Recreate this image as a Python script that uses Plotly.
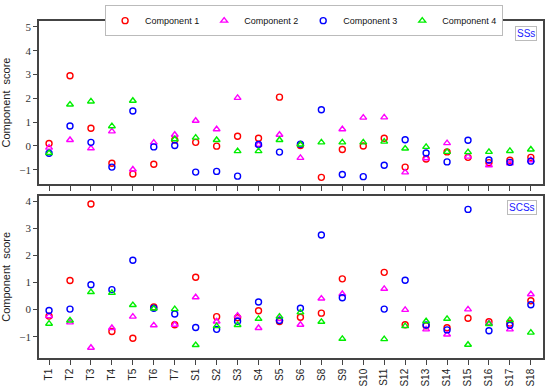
import plotly.graph_objects as go

samples = ["T1", "T2", "T3", "T4", "T5", "T6", "T7",
           "S1", "S2", "S3", "S4", "S5", "S6",
           "S8", "S9", "S10", "S11", "S12", "S13", "S14", "S15", "S16", "S17", "S18"]

# SSs panel
ss_c1 = [0.1, 2.95, 0.74, -0.73, -1.18, -0.77, 0.25, 0.15, -0.01, 0.41, 0.32, 2.05, 0.02,
         -1.32, -0.15, 0.0, 0.32, -0.89, -0.55, -0.25, -0.48, -0.7, -0.6, -0.48]
ss_c2 = [-0.07, 0.25, -0.1, 0.61, -0.99, 0.14, 0.47, 1.06, 0.70, 2.02, 0.05, 0.47, -0.5,
         4.89, 0.70, 1.19, 1.2, -1.11, -0.52, 0.12, -0.45, -0.81, -0.73, -0.6]
ss_c3 = [-0.31, 0.84, 0.15, -0.89, 1.47, -0.04, 0.02, -1.1, -1.07, -1.27, 0.06, -0.26, 0.07,
         1.52, -1.2, -1.29, -0.81, 0.26, -0.30, -0.67, 0.24, -0.59, -0.69, -0.64]
ss_c4 = [-0.3, 1.74, 1.87, 0.83, 1.9, 5.0, 0.28, 0.35, 0.25, -0.22, -0.22, 0.25, 0.06,
         0.15, 0.15, 0.15, 0.18, -0.11, -0.04, -0.25, -0.26, -0.25, -0.21, -0.15]

# SCSs panel
scs_c1 = [-0.24, 1.08, 3.91, -0.81, -1.06, 0.1, -0.56, 1.2, -0.26, -0.3, -0.04, -0.44, -0.28,
          -0.13, 1.14, None, 1.38, -0.56, -0.6, -0.67, -0.32, -0.45, -0.5, 0.33]
scs_c2 = [-0.24, -0.47, -1.41, -0.68, -0.26, -0.58, -0.56, 0.46, -0.44, -0.22, -0.68, -0.35, -0.56,
          0.41, 0.58, None, 0.77, -0.01, -0.73, -0.92, 0.01, -0.5, -0.73, 0.57]
scs_c3 = [-0.03, 0.02, 0.92, 0.74, 1.83, 0.05, -0.16, -0.66, -0.73, -0.43, 0.28, -0.4, 0.05,
          2.76, 0.44, None, 0.02, 1.09, -0.57, -0.75, 3.71, -0.78, -0.58, 0.18]
scs_c4 = [-0.52, -0.4, 0.65, 0.62, 0.17, 0.04, 0.02, -1.31, -0.61, -0.57, -0.34, -0.26, -0.1,
          -0.45, -1.08, None, -1.09, -0.61, -0.43, -0.34, -1.3, -0.53, -0.39, -0.85]

names = ["Component 1", "Component 2", "Component 3", "Component 4"]
colors = ["#FF0000", "#FF00FF", "#0000FF", "#00EE00"]
symbols = ["circle-open", "triangle-up-open", "circle-open", "triangle-up-open"]

fig = go.Figure()
top = [ss_c1, ss_c2, ss_c3, ss_c4]
bot = [scs_c1, scs_c2, scs_c3, scs_c4]
for i in range(4):
    fig.add_trace(go.Scatter(x=samples, y=top[i], mode="markers", name=names[i],
                             marker=dict(symbol=symbols[i], size=6, color=colors[i],
                                         line=dict(width=1.4, color=colors[i])),
                             xaxis="x", yaxis="y", legendgroup=names[i]))
for i in range(4):
    fig.add_trace(go.Scatter(x=samples, y=bot[i], mode="markers", name=names[i],
                             marker=dict(symbol=symbols[i], size=6, color=colors[i],
                                         line=dict(width=1.4, color=colors[i])),
                             xaxis="x2", yaxis="y2", legendgroup=names[i], showlegend=False))

axcol = "#444444"
xcommon = dict(type="category", categoryorder="array", categoryarray=samples,
               range=[-0.48, 23.58], showgrid=False, zeroline=False,
               showline=True, linecolor=axcol, linewidth=1.5, mirror=True,
               ticks="outside", ticklen=5, tickcolor=axcol, tickwidth=1)
ycommon = dict(showgrid=False, zeroline=False, showline=True, linecolor=axcol,
               linewidth=1.5, mirror=True, ticks="outside", ticklen=4,
               tickcolor=axcol, tickwidth=1, dtick=1,
               tickfont=dict(family="Liberation Serif", size=11, color="#333333"),
               title=dict(text="Component  score", standoff=6,
                          font=dict(family="Liberation Sans", size=11, color="#222222")))

fig.update_layout(
    width=550, height=392,
    margin=dict(l=39, r=5.5, t=19.7, b=29.5),
    plot_bgcolor="white", paper_bgcolor="white",
    xaxis=dict(xcommon, anchor="y", showticklabels=False),
    yaxis=dict(ycommon, domain=[0.5163, 1.0], range=[-1.6, 5.25], anchor="x"),
    xaxis2=dict(xcommon, anchor="y2", tickangle=-90,
                tickfont=dict(family="Liberation Sans", size=10, color="#222222")),
    yaxis2=dict(ycommon, domain=[0.0, 0.4819], range=[-1.79, 4.22], anchor="x2"),
    legend=dict(orientation="h", x=0.526, xanchor="center", y=1.047, yanchor="top",
                bordercolor="#BBBBBB", borderwidth=1, bgcolor="white",
                font=dict(family="Liberation Sans", size=9, color="#111111"),
                itemwidth=30, tracegroupgap=0),
    showlegend=True,
    annotations=[
        dict(text="SSs", xref="paper", yref="paper", x=0.989, y=0.9854,
             xanchor="right", yanchor="top", showarrow=False,
             font=dict(family="Liberation Sans", size=10, color="#2020FF"),
             bordercolor="#BBBBBB", borderwidth=1, bgcolor="white", borderpad=1),
        dict(text="SCSs", xref="paper", yref="paper", x=0.989, y=0.468,
             xanchor="right", yanchor="top", showarrow=False,
             font=dict(family="Liberation Sans", size=10, color="#2020FF"),
             bordercolor="#BBBBBB", borderwidth=1, bgcolor="white", borderpad=1),
    ],
)

fig.write_html("out.html", config={"displayModeBar": False},
               post_script="document.body.style.margin='0';document.body.style.padding='0';")
